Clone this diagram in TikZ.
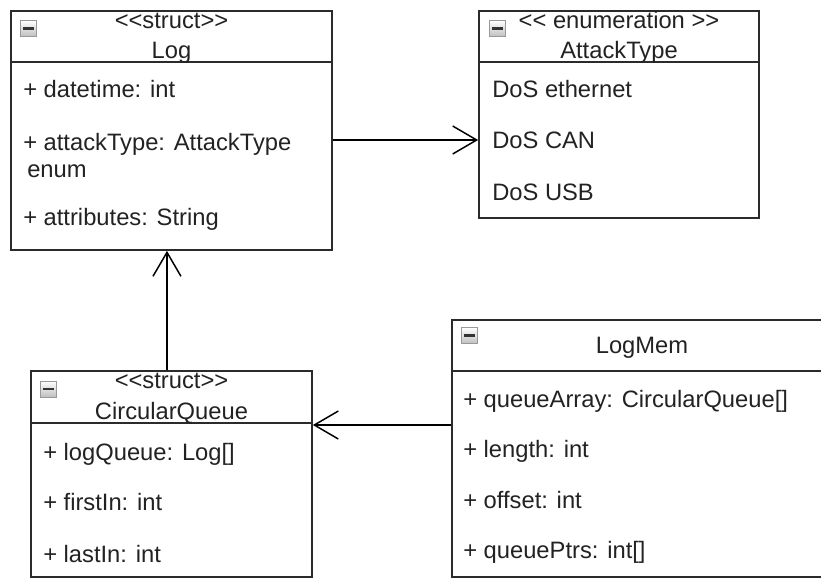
\documentclass[tikz,border=0pt]{standalone}
\usepackage{fontspec}
\setmainfont{Liberation Sans}
\usepackage{tikz}
\usetikzlibrary{arrows.meta,positioning,fit}
\definecolor{ink}{HTML}{222222}
\definecolor{frame}{HTML}{2B2B2B}

\begin{document}
\begin{tikzpicture}[
  x=0.75pt,y=-0.75pt,
  font=\fontsize{17.8}{21}\selectfont,
  cls/.style={rectangle,draw=frame,line width=1.3pt,inner sep=0pt},
  attr/.style={anchor=base west,inner sep=0pt,text=ink},
  hdr/.style={anchor=base,inner sep=0pt,text=ink},
  icon/.style={rectangle,draw=black!40,top color=white,bottom color=black!25,
               minimum size=12pt,inner sep=0pt,
               path picture={\fill[black!80]
                 ([xshift=-3.8pt,yshift=-1pt]path picture bounding box.center) rectangle
                 ([xshift=3.8pt,yshift=1pt]path picture bounding box.center);}},
  assoc/.style={-{Straight Barb[length=18pt,width=21pt,line width=1.1pt]},draw=black,line width=1.1pt}
]
\clip (0,0) rectangle (821,579);

% Log
\node[cls,fit={(11,11) (332,62)}] (loghead) {};
\node[cls,fit={(11,62) (332,250)}] (log) {};
\node[icon] (logicon) at (28.5,28.5) {};
\node[hdr] (logst) at (171.5,28) {<{}<struct>{}>};
\node[hdr] (logname) at (171.5,58) {Log};
\node[attr] (logdt) at (23,97) {+ datetime: int};
\node[attr] (logat) at (23,150) {+ attackType: AttackType};
\node[attr] (logen) at (27,177) {enum};
\node[attr] (logattr) at (23,225) {+ attributes: String};

% AttackType
\node[cls,fit={(479,11) (759,62)}] (enumhead) {};
\node[cls,fit={(479,62) (759,218)}] (enum) {};
\node[icon] (enumicon) at (497.5,28.5) {};
\node[hdr] (enumst) at (619,28) {<{}< enumeration >{}>};
\node[hdr] (enumname) at (619,58) {AttackType};
\node[attr] (doseth) at (492,97) {DoS ethernet};
\node[attr] (doscan) at (492,148) {DoS CAN};
\node[attr] (dosusb) at (492,200) {DoS USB};

% CircularQueue
\node[cls,fit={(31,371) (312,423)}] (queuehead) {};
\node[cls,fit={(31,423) (312,577)}] (queue) {};
\node[icon] (queueicon) at (48.5,389) {};
\node[hdr] (queuest) at (171.5,388) {<{}<struct>{}>};
\node[hdr] (queuename) at (171.5,419) {CircularQueue};
\node[attr] (qlog) at (43,460) {+ logQueue: Log[]};
\node[attr] (qfirst) at (43,510) {+ firstIn: int};
\node[attr] (qlast) at (43,562) {+ lastIn: int};

% LogMem
\node[cls,fit={(452,320) (832,371)}] (memhead) {};
\node[cls,fit={(452,371) (832,577)}] (mem) {};
\node[icon] (memicon) at (469.5,335.5) {};
\node[hdr] (memname) at (642,353) {LogMem};
\node[attr] (mqa) at (463,407) {+ queueArray: CircularQueue[]};
\node[attr] (mlen) at (463,457) {+ length: int};
\node[attr] (moff) at (463,508) {+ offset: int};
\node[attr] (mptr) at (463,558) {+ queuePtrs: int[]};

% associations
\coordinate (enumrow) at (0,140);
\coordinate (queuerow) at (0,425);
\draw[assoc] (log.east |- enumrow) -- (enum.west |- enumrow);
\draw[assoc] ([xshift=-3.4pt]queuehead.north) -- ([xshift=-3.4pt]log.south);
\draw[assoc] (mem.west |- queuerow) -- (queue.east |- queuerow);
\end{tikzpicture}
\end{document}
